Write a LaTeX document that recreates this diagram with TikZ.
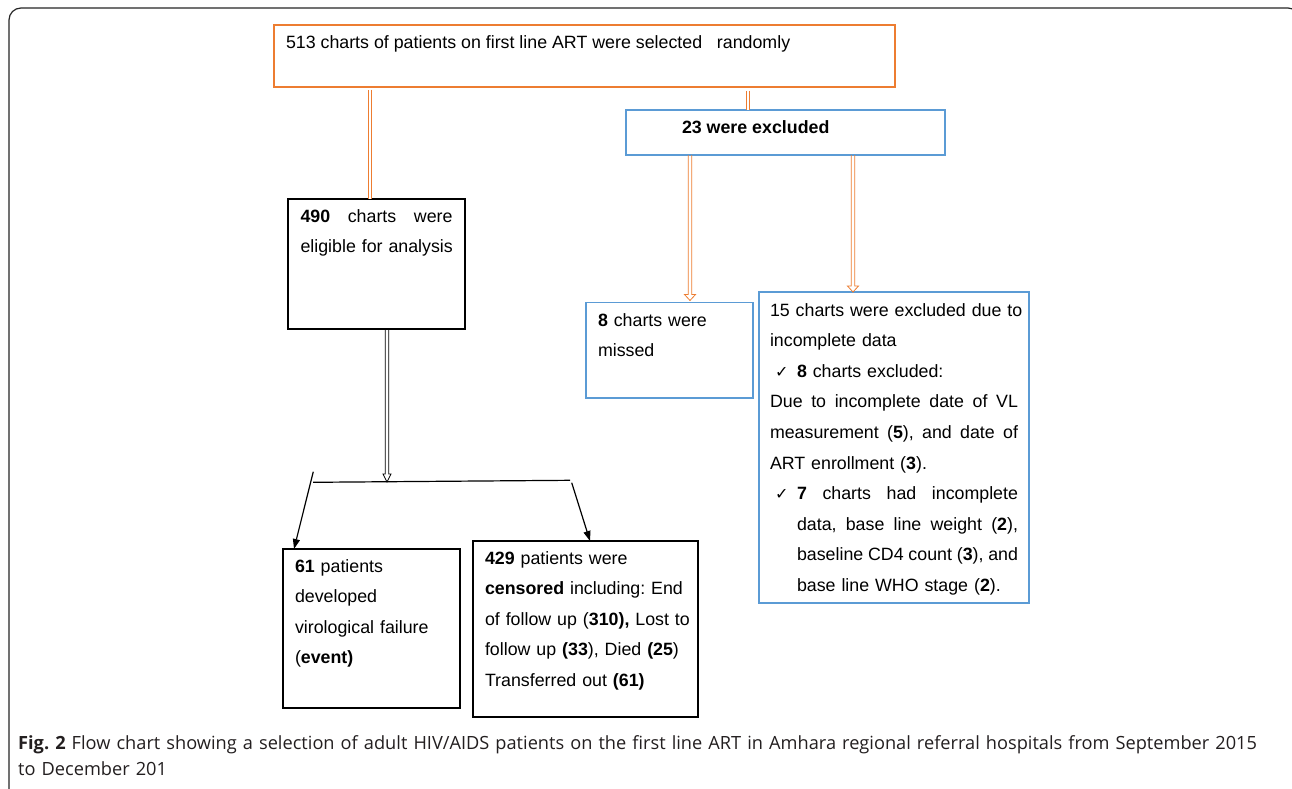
\documentclass[tikz,border=0pt]{standalone}
\usepackage{fontspec}
\setmainfont{Liberation Sans}
\newfontfamily\capfont{Open Sans}
\newfontfamily\dejavu{DejaVu Sans}
\usetikzlibrary{arrows.meta,calc}
\frenchspacing
\definecolor{orln}{RGB}{237,125,49}
\definecolor{blbx}{RGB}{91,155,213}
\definecolor{captxt}{RGB}{35,31,32}
\newcommand\bx{\fontsize{17.8}{30.6}\selectfont\frenchspacing}
\newcommand\ck{{\dejavu\fontsize{16}{16}\selectfont ✓}}
\newcommand\jl[2]{\makebox[#1][l]{#2}}
% hollow double arrow: style, start, end, half width, head length
\newcommand\hollowarrow[5]{%
  \draw[#1, line width=0.8pt, line join=miter] let \p1=(#2), \p2=(#3) in
   (\x1-1.7pt,\y1) -- (\x1-1.7pt,\y2+#5) -- (\x1-#4,\y2+#5) -- (\x1,\y2)
   -- (\x1+#4,\y2+#5) -- (\x1+1.7pt,\y2+#5) -- (\x1+1.7pt,\y1);}
\tikzset{
  x=1pt, y=-1pt,
  frame/.style={draw=black!85, line width=1.2pt, rounded corners=12pt},
  boxo/.style={draw=orln, line width=1.3pt, anchor=north west, inner sep=0pt, outer sep=0pt},
  boxb/.style={draw=blbx, line width=1.3pt, anchor=north west, inner sep=0pt, outer sep=0pt},
  boxk/.style={draw=black, line width=1.4pt, anchor=north west, inner sep=0pt, outer sep=0pt},
  txt/.style={anchor=base west, inner sep=0pt, outer sep=0pt, font=\bx, align=left},
  dbl/.style={draw=orln, double, double distance=2.2pt, line width=0.9pt},
  conn/.style={draw=black, line width=1.2pt},
  arr/.style={conn, -{Triangle[length=10pt, width=7pt]}},
}
\begin{document}
\begin{tikzpicture}
\clip (0,0) rectangle (1292,789);
\fill[white] (0,0) rectangle (1292,789);
\draw[frame] (9,8) rectangle (1300,802);

% boxes
\node[boxo, minimum width=621pt, minimum height=62pt] (top) at (274,25) {};
\node[boxb, minimum width=319pt, minimum height=45pt] (ex23) at (626,110) {};
\node[boxk, minimum width=177pt, minimum height=130pt] (b490) at (288,199) {};
\node[boxb, minimum width=167pt, minimum height=95.5pt] (b8) at (586,302.5) {};
\node[boxb, minimum width=270pt, minimum height=311pt] (b15) at (759,292) {};
\node[boxk, minimum width=177pt, minimum height=159pt] (b61) at (283,549) {};
\node[boxk, minimum width=225pt, minimum height=176pt] (b429) at (473,541) {};

% texts
\node[txt] (tTop) at (286,49) {513 charts of patients on first line ART were selected \ \ randomly};
\node[txt] (t23) at (682,133) {\textbf{23 were excluded}};
\node[txt, text width=190pt] (t490) at (300.5,222) {\bx\jl{152pt}{\textbf{490}\hfill charts\hfill were}\\eligible for analysis};
\node[txt, text width=150pt] (t8) at (598,326) {\bx\textbf{8} charts were\\missed};
\node[txt, text width=290pt] (t15) at (770,316) {\bx
15 charts were excluded due to\\
incomplete data\\
\makebox[27pt][l]{\hspace{5pt}\ck}\textbf{8} charts excluded:\\
\jl{248pt}{Due\hfill to\hfill incomplete\hfill date\hfill of\hfill VL}\\
\jl{248pt}{measurement\hfill (\textbf{5}),\hfill and\hfill date\hfill of}\\
ART enrollment (\textbf{3}).\\
\makebox[27pt][l]{\hspace{5pt}\ck}\jl{221pt}{\textbf{7}\hfill charts\hfill had\hfill incomplete}\\
\hspace*{27pt}\jl{221pt}{data,\hfill base\hfill line\hfill weight\hfill (\textbf{2}),}\\
\hspace*{27pt}\jl{221pt}{baseline\hfill CD4\hfill count\hfill (\textbf{3}),\hfill and}\\
\hspace*{27pt}base line WHO stage (\textbf{2}).};
\node[txt, text width=170pt] (t61) at (295,572) {\bx\textbf{61} patients\\developed\\virological failure\\(\textbf{event)}};
\node[txt, text width=230pt] (t429) at (485,564) {\bx\textbf{429} patients were\\
\textbf{censored} including: End\\
of follow up (\textbf{310),} Lost to\\
follow up \textbf{(33}), Died \textbf{(25})\\
Transferred out \textbf{(61)}};

% connectors
\coordinate (c1) at ([xshift=96pt, yshift=-3pt]top.south west);
\draw[dbl] (c1) -- (c1 |- b490.north);
\coordinate (c2) at ([xshift=474pt, yshift=-4pt]top.south west);
\draw[dbl] (c2) -- (c2 |- ex23.north);
\coordinate (c3) at ([xshift=64pt]ex23.south west);
\coordinate (e3) at ([yshift=2pt]c3 |- b8.north);
\hollowarrow{orln}{c3}{e3}{5.5pt}{6pt}
\coordinate (c4) at ([xshift=227pt]ex23.south west);
\hollowarrow{orln}{c4}{c4 |- b15.north}{5.5pt}{6pt}

\coordinate (hl) at (313,482.3);
\coordinate (hr) at (570,480.3);
\draw[conn] (hl) -- (hr);
\coordinate (c5) at ([xshift=99pt]b490.south west);
\coordinate (e5) at (386.7,482);
\hollowarrow{black}{c5}{e5}{4pt}{8pt}

\coordinate (la) at (313.3,471.7);
\draw[arr] (la) -- ([xshift=11pt]b61.north west);
\coordinate (ra) at (571.7,482.7);
\draw[arr] (ra) -- ([xshift=117pt]b429.north west);

% caption
\node[anchor=base west, inner sep=0pt, text width=1270pt, align=left, text=captxt,
      font=\capfont\fontsize{18.2}{26}\selectfont] (cap) at (18,749)
 {\capfont\fontsize{18.2}{26}\selectfont\frenchspacing\textbf{Fig.\ 2} Flow chart showing a selection of adult HIV/AIDS patients on the first line ART in Amhara regional referral hospitals from September 2015\\to December 201};
\end{tikzpicture}
\end{document}
